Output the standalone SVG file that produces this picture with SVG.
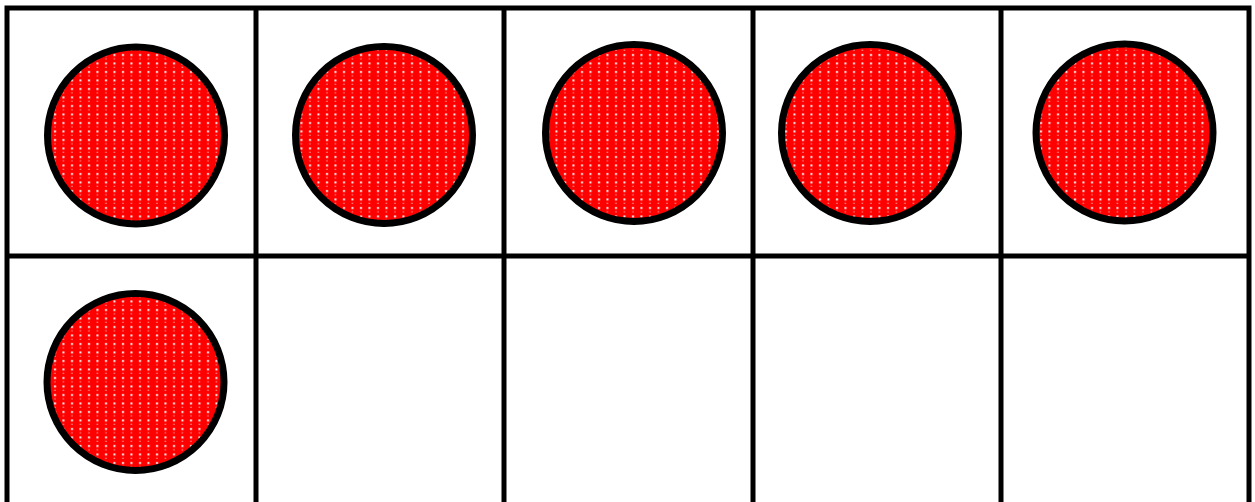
<svg xmlns="http://www.w3.org/2000/svg" width="1255" height="502" viewBox="0 0 1255 502">
  <style>
    .grid { fill: none; stroke: #000; stroke-width: 5; }
    .counter { fill: url(#dots); stroke: #000; stroke-width: 7; }
  </style>
  <defs>
    <pattern id="dots" patternUnits="userSpaceOnUse" width="8.5" height="8.5">
      <rect width="8.5" height="8.5" fill="#ff0000"/>
      <rect x="3" y="3" width="2" height="2" fill="#ffffff"/>
      <rect x="3.3" y="7.3" width="1.3" height="1" fill="#ffc0c0"/>
    </pattern>
  </defs>
  <rect width="1255" height="502" fill="#ffffff"/>
  <g id="frame">
    <rect class="grid" x="7" y="8" width="1242" height="500"/>
    <line class="grid" x1="7" y1="256" x2="1249" y2="256"/>
    <line class="grid" x1="256" y1="8" x2="256" y2="508"/>
    <line class="grid" x1="504" y1="8" x2="504" y2="508"/>
    <line class="grid" x1="753" y1="8" x2="753" y2="508"/>
    <line class="grid" x1="1001" y1="8" x2="1001" y2="508"/>
  </g>
  <g id="counter1"><circle class="counter" cx="136" cy="135.5" r="88.5"/></g>
  <g id="counter2"><circle class="counter" cx="384" cy="135" r="88.5"/></g>
  <g id="counter3"><circle class="counter" cx="634" cy="133" r="88.5"/></g>
  <g id="counter4"><circle class="counter" cx="870" cy="133" r="88.5"/></g>
  <g id="counter5"><circle class="counter" cx="1124.5" cy="132.5" r="88.5"/></g>
  <g id="counter6"><circle class="counter" cx="135.5" cy="382" r="88.5"/></g>
  <g id="connectors"/>
</svg>
